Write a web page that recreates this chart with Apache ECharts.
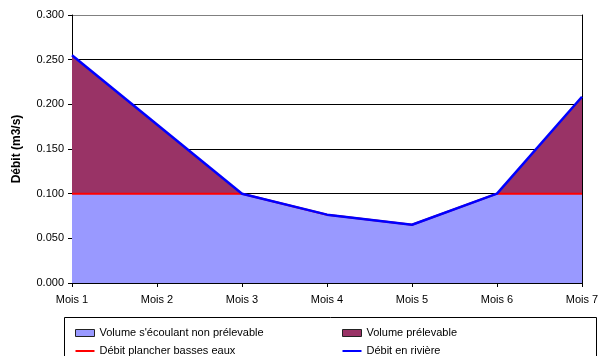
<!DOCTYPE html>
<html>
<head>
<meta charset="utf-8">
<script src="https://cdn.jsdelivr.net/npm/echarts@6/dist/echarts.min.js"></script>
<style>
  html, body { margin: 0; padding: 0; background: #fff; }
  #chart { width: 609px; height: 356px; }
</style>
</head>
<body>
<div id="chart"></div>
<script>
// Monthly river flow (m3/s) and the low-water floor flow
const months = ['Mois 1', 'Mois 2', 'Mois 3', 'Mois 4', 'Mois 5', 'Mois 6', 'Mois 7'];
const debitRiviere = [0.255, 0.1775, 0.100, 0.0765, 0.0652, 0.100, 0.2085];
const debitPlancher = 0.100;
const yTicks = { min: 0, max: 0.3, interval: 0.05 };

const seriesNames = {
  nonPrelevable: "Volume s'écoulant non prélevable",
  prelevable: 'Volume prélevable',
  plancher: 'Débit plancher basses eaux',
  riviere: 'Débit en rivière'
};

// Part of the flow below the floor cannot be taken; the excess can
const nonPrelevable = debitRiviere.map(v => Math.min(v, debitPlancher));
const prelevable = debitRiviere.map(v => Math.max(v - debitPlancher, 0));

const font = 'Liberation Sans, Arial, sans-serif';
// Legend icon: a thin horizontal stroke inside a 19x7 box
const lineIcon = 'path://M0,0M19,7M0,2.5H19V4.5H0Z';

const legendCommon = {
  orient: 'vertical',
  top: 327,
  height: 60,
  padding: 0,
  itemWidth: 19, itemHeight: 7, itemGap: 6,
  textStyle: { fontFamily: font, fontSize: 11, color: '#000', lineHeight: 12 }
};

const chart = echarts.init(document.getElementById('chart'), null, { renderer: 'canvas' });

chart.setOption({
  animation: false,
  backgroundColor: '#ffffff',
  grid: { left: 72, right: 27, top: 15, bottom: 73, containLabel: false, outerBoundsMode: 'none' },
  graphic: [{
    type: 'rect',
    z: -10,
    shape: { x: 64.5, y: 317.5, width: 532, height: 60 },
    style: { fill: '#ffffff', stroke: '#000000', lineWidth: 1 }
  }],
  legend: [Object.assign({}, legendCommon, {
    left: 75,
    data: [
      { name: seriesNames.nonPrelevable, icon: 'rect', itemStyle: { color: '#9999FF', borderColor: '#222', borderWidth: 1 } },
      { name: seriesNames.plancher, icon: lineIcon, itemStyle: { color: '#FF0000' } }
    ]
  }), Object.assign({}, legendCommon, {
    left: 342,
    data: [
      { name: seriesNames.prelevable, icon: 'rect', itemStyle: { color: '#993366', borderColor: '#222', borderWidth: 1 } },
      { name: seriesNames.riviere, icon: lineIcon, itemStyle: { color: '#0000FF' } }
    ]
  })],
  xAxis: {
    type: 'category',
    data: months,
    boundaryGap: false,
    axisLine: { lineStyle: { color: '#000', width: 1 } },
    axisTick: { show: true, length: 4, alignWithLabel: true, lineStyle: { color: '#000' } },
    axisLabel: { color: '#000', fontFamily: font, fontSize: 11, margin: 11 },
    splitLine: { show: false }
  },
  yAxis: [{
    type: 'value',
    min: yTicks.min, max: yTicks.max, interval: yTicks.interval,
    name: 'Débit (m3/s)',
    nameLocation: 'middle',
    nameGap: 49,
    nameTextStyle: { fontFamily: font, fontSize: 12, fontWeight: 'bold', color: '#000' },
    axisLine: { show: true, lineStyle: { color: '#000', width: 1 } },
    axisTick: { show: true, length: 4, lineStyle: { color: '#000' } },
    axisLabel: { color: '#000', fontFamily: font, fontSize: 11, margin: 8,
      formatter: v => v.toFixed(3) },
    splitLine: { show: true, lineStyle: { color: ['#808080', '#000', '#000', '#000', '#000', '#000', '#808080'], width: 1 } }
  }, {
    type: 'value',
    position: 'right',
    min: yTicks.min, max: yTicks.max, interval: yTicks.interval,
    axisLine: { show: true, lineStyle: { color: '#000', width: 1 } },
    axisTick: { show: false },
    axisLabel: { show: false },
    splitLine: { show: false }
  }],
  series: [{
    name: seriesNames.nonPrelevable,
    type: 'line',
    stack: 'volume',
    data: nonPrelevable,
    symbol: 'none',
    lineStyle: { width: 0, opacity: 0 },
    areaStyle: { color: '#9999FF', opacity: 1 },
    itemStyle: { color: '#9999FF' },
    z: 1
  }, {
    name: seriesNames.prelevable,
    type: 'line',
    stack: 'volume',
    data: prelevable,
    symbol: 'none',
    lineStyle: { width: 0, opacity: 0 },
    areaStyle: { color: '#993366', opacity: 1 },
    itemStyle: { color: '#993366' },
    z: 2
  }, {
    // Floor flow, drawn along the top of the non-withdrawable volume
    name: seriesNames.plancher,
    type: 'line',
    data: nonPrelevable,
    symbol: 'none',
    lineStyle: { color: '#FF0000', width: 2 },
    itemStyle: { color: '#FF0000' },
    z: 3
  }, {
    name: seriesNames.riviere,
    type: 'line',
    data: debitRiviere,
    symbol: 'none',
    lineStyle: { color: '#0000FF', width: 2.5 },
    itemStyle: { color: '#0000FF' },
    z: 4
  }]
});
</script>
</body>
</html>
